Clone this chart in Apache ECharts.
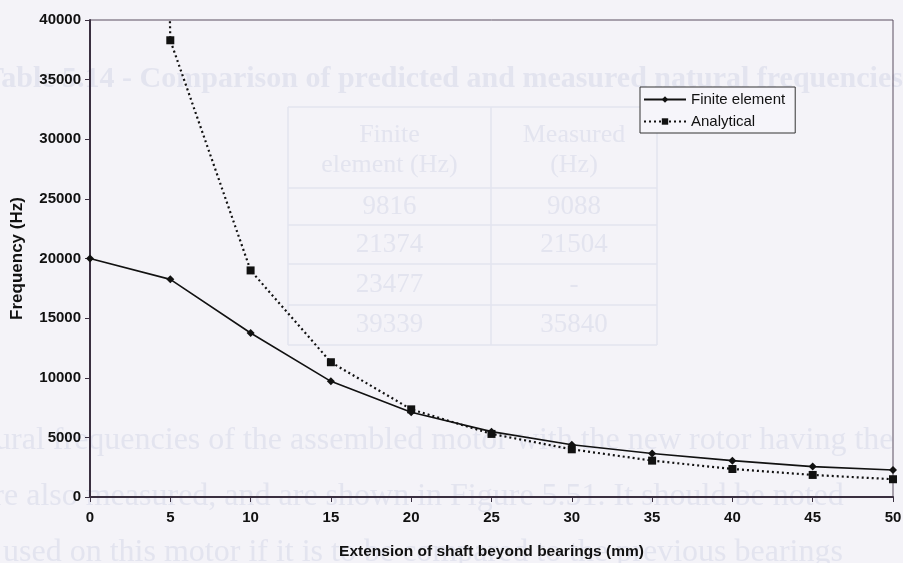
<!DOCTYPE html>
<html>
<head>
<meta charset="utf-8">
<script src="https://cdn.jsdelivr.net/npm/echarts@6/dist/echarts.min.js"></script>
<style>
  html, body { margin: 0; padding: 0; background: #f4f3f8; }
  #chart { width: 903px; height: 563px; }
</style>
</head>
<body>
<div id="chart"></div>
<script>
// Shaft extension beyond the bearings (mm)
const extension = [0, 5, 10, 15, 20, 25, 30, 35, 40, 45, 50];
// Natural frequency from the finite element model (Hz)
const finiteElement = [20000, 18250, 13750, 9700, 7100, 5480, 4380, 3650, 3050, 2550, 2270];
// Natural frequency from the analytical model (Hz); at zero extension it runs far off scale
const analytical = [400000, 38300, 19000, 11300, 7350, 5290, 4000, 3050, 2350, 1850, 1490];

// Faint print from the facing page of the thesis
const pageTitle = 'Table 5.14 - Comparison of predicted and measured natural frequencies';
const tableHeader = [['Finite', 'element (Hz)'], ['Measured', '(Hz)']];
const tableRows = [['9816', '9088'], ['21374', '21504'], ['23477', '-'], ['39339', '35840']];
const pageLines = [
  'natural frequencies of the assembled motor with the new rotor having the',
  'were also measured, and are shown in Figure 5.51. It should be noted',
  'are used on this motor if it is to be compared to the previous bearings'
];

const faint = '#e3e4ef';
const serif = '"Liberation Serif", "DejaVu Serif", serif';
const sans = '"Liberation Sans", Arial, sans-serif';

function pageGraphics() {
  const g = [];
  g.push({ type: 'text', left: -16, top: 64, z: -10, silent: true,
    style: { text: pageTitle, font: 'bold 30px ' + serif, fill: faint } });
  const colX = [288, 491, 657];
  const rowY = [107, 188, 225, 264, 305, 345];
  for (const x of colX) {
    g.push({ type: 'line', z: -10, silent: true,
      shape: { x1: x, y1: rowY[0], x2: x, y2: rowY[rowY.length - 1] },
      style: { stroke: faint, lineWidth: 1.5 } });
  }
  for (const y of rowY) {
    g.push({ type: 'line', z: -10, silent: true,
      shape: { x1: colX[0], y1: y, x2: colX[2], y2: y },
      style: { stroke: faint, lineWidth: 1.5 } });
  }
  const centers = [(colX[0] + colX[1]) / 2, (colX[1] + colX[2]) / 2];
  tableHeader.forEach((lines, c) => {
    lines.forEach((t, i) => {
      g.push({ type: 'text', z: -10, silent: true, x: centers[c], y: 135 + i * 30,
        style: { text: t, font: '26px ' + serif, fill: faint, align: 'center', verticalAlign: 'middle' } });
    });
  });
  tableRows.forEach((row, r) => {
    row.forEach((t, c) => {
      g.push({ type: 'text', z: -10, silent: true, x: centers[c], y: (rowY[r + 1] + rowY[r + 2]) / 2,
        style: { text: t, font: '27px ' + serif, fill: faint, align: 'center', verticalAlign: 'middle' } });
    });
  });
  pageLines.forEach((t, i) => {
    g.push({ type: 'text', z: -10, silent: true, x: -44, y: 441 + i * 56,
      style: { text: t, font: '32px ' + serif, fill: faint, verticalAlign: 'middle' } });
  });
  return g;
}

const chart = echarts.init(document.getElementById('chart'), null, { renderer: 'canvas' });

const axisColor = '#3a2f40';
const labelStyle = {
  color: '#111', fontFamily: sans, fontWeight: 'bold', fontSize: 15,
  formatter: (v) => String(v)
};

chart.setOption({
  backgroundColor: '#f4f3f8',
  animation: false,
  graphic: pageGraphics(),
  grid: {
    left: 90, right: 10, top: 20, bottom: 66,
    outerBoundsMode: 'none',
    show: true, borderColor: '#5a4f60', borderWidth: 1, backgroundColor: 'transparent'
  },
  legend: {
    orient: 'vertical',
    left: 640, top: 87,
    padding: [5, 10, 4, 3],
    itemGap: 7,
    itemWidth: 42, itemHeight: 8,
    borderColor: '#333', borderWidth: 1,
    backgroundColor: '#f6f5fa',
    textStyle: { color: '#111', fontFamily: sans, fontSize: 15, padding: [0, 0, 0, 0] },
    data: ['Finite element', 'Analytical']
  },
  xAxis: {
    type: 'value', min: 0, max: 50, interval: 5,
    name: 'Extension of shaft beyond bearings (mm)',
    nameLocation: 'middle', nameGap: 47,
    nameTextStyle: { color: '#111', fontFamily: sans, fontWeight: 'bold', fontSize: 15.5 },
    axisLine: { show: true, onZero: false, lineStyle: { color: axisColor, width: 2 } },
    axisTick: { show: true, length: 5, lineStyle: { color: axisColor, width: 1 } },
    axisLabel: Object.assign({ margin: 13 }, labelStyle),
    splitLine: { show: false }
  },
  yAxis: {
    type: 'value', min: 0, max: 40000, interval: 5000,
    name: 'Frequency (Hz)',
    nameLocation: 'middle', nameGap: 64, nameRotate: 90,
    nameTextStyle: { color: '#111', fontFamily: sans, fontWeight: 'bold', fontSize: 17 },
    axisLine: { show: true, onZero: false, lineStyle: { color: axisColor, width: 2 } },
    axisTick: { show: true, length: 5, lineStyle: { color: axisColor, width: 1 } },
    axisLabel: Object.assign({ margin: 9 }, labelStyle),
    splitLine: { show: false }
  },
  series: [
    {
      name: 'Finite element',
      type: 'line',
      data: extension.map((x, i) => [x, finiteElement[i]]),
      symbol: 'diamond', symbolSize: 8,
      itemStyle: { color: '#111' },
      lineStyle: { color: '#111', width: 1.6 },
      clip: true, z: 3
    },
    {
      name: 'Analytical',
      type: 'line',
      data: extension.map((x, i) => [x, analytical[i]]),
      symbol: 'rect', symbolSize: 8,
      itemStyle: { color: '#111' },
      lineStyle: { color: '#111', width: 2.2, type: [2, 3] },
      clip: true, z: 2
    }
  ]
});
</script>
</body>
</html>
